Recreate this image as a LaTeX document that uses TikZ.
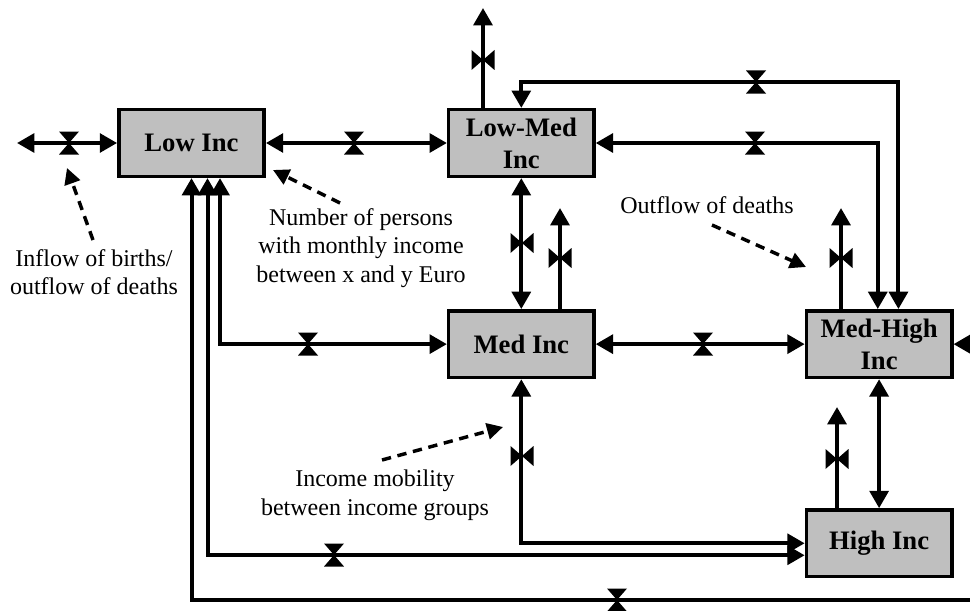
\documentclass[tikz,border=0pt]{standalone}
\usepackage{fontspec}
\setmainfont{Liberation Serif}
\usetikzlibrary{arrows.meta}
\usetikzlibrary{positioning}

\begin{document}
\begin{tikzpicture}[x=0.75pt,y=-0.75pt,
	stock/.style={draw,line width=2.6pt,fill=stockgray,minimum width=109pt,minimum height=50pt,inner sep=0pt,align=center,font=\fontsize{20}{24}\selectfont\bfseries},
	flow/.style={line width=3pt,{Triangle[length=13pt,width=14pt]}-{Triangle[length=13pt,width=14pt]}},
	outflow/.style={line width=3pt,-{Triangle[length=13pt,width=14pt]}},
	note/.style={align=center,font=\fontsize{18}{21.5}\selectfont},
	pointer/.style={line width=2.6pt,dash pattern=on 7pt off 5pt,-{Triangle[length=12pt,width=12pt]}},
	valve/.pic={\fill (-10,-11.5) -- (10,-11.5) -- (0,0) -- cycle (-10,11.5) -- (10,11.5) -- (0,0) -- cycle;}
]

	\definecolor{stockgray}{rgb}{0.75,0.75,0.75}
	\useasboundingbox (0,0) rectangle (970,610);

	% stocks
	\node(lowinc) [stock] at (191.5,143) {Low Inc};
	\node(lowmed) [stock,right=135.75pt of lowinc] {Low-Med\\Inc};
	\node(medinc) [stock,below=98.25pt of lowmed] {Med Inc};
	\node(medhigh) [stock,right=156.75pt of medinc] {Med-High\\Inc};
	\node(highinc) [stock,below=96.75pt of medhigh] {High Inc};

	% free ends
	\coordinate (birthend) at (17,143);
	\coordinate (outlm) at (483,8);
	\coordinate (outmed) at (560,208);
	\coordinate (outmh) at (841,208);
	\coordinate (outhigh) at (837,407);
	\coordinate (toploop) at (756,82);
	\coordinate (rimbr) at (995,600);

	% flows
	\draw[flow] (birthend) -- (lowinc.west);
	\draw[flow] (lowinc.east) -- (lowmed.west);
	\draw[flow] (lowmed.south) -- (medinc.north);
	\draw[flow] (medinc.east) -- (medhigh.west);
	\draw[flow] (medhigh.south) -- (highinc.north);
	\draw[flow] (lowmed.north) |- (toploop) -| ([xshift=14.5pt]medhigh.north);
	\draw[flow] (lowmed.east) -| ([xshift=-1pt]medhigh.north);
	\draw[flow] ([xshift=21.4pt]lowinc.south) |- (medinc.west);
	\draw[flow] ([xshift=12pt]lowinc.south) |- ([yshift=-9pt]highinc.west);
	\draw[flow] (lowinc.south) |- (rimbr) |- (medhigh.east);
	\draw[flow] (medinc.south) |- (highinc.west);

	\draw[outflow] (lowmed.north -| outlm) -- (outlm);
	\draw[outflow] (medinc.north -| outmed) -- (outmed);
	\draw[outflow] (medhigh.north -| outmh) -- (outmh);
	\draw[outflow] (highinc.north -| outhigh) -- (outhigh);

	% valves
	\pic at (69,143) {valve};
	\pic at (354,143) {valve};
	\pic at (756,82) {valve};
	\pic at (755,143) {valve};
	\pic at (308,344) {valve};
	\pic at (703,344) {valve};
	\pic at (334,555) {valve};
	\pic at (617,600) {valve};
	\pic[rotate=90] at (483,60) {valve};
	\pic[rotate=90] at (522,243) {valve};
	\pic[rotate=90] at (560,258) {valve};
	\pic[rotate=90] at (841,258) {valve};
	\pic[rotate=90] at (522,456) {valve};
	\pic[rotate=90] at (837,459) {valve};

	% notes
	\node(births) [note] at (94,272) {Inflow of births/\\outflow of deaths};
	\node(persons) [note] at (361,248) {Number of persons\\with monthly income\\between x and y Euro};
	\node(deaths) [note] at (707,205) {Outflow of deaths};
	\node(mobility) [note] at (375,495) {Income mobility\\between income groups};

	\draw[pointer] (93,240) -- (67,168);
	\draw[pointer] (340,203) -- (273,170);
	\draw[pointer] (712,225) -- (806,267);
	\draw[pointer] (382,460) -- (503,427);

\end{tikzpicture}
\end{document}
